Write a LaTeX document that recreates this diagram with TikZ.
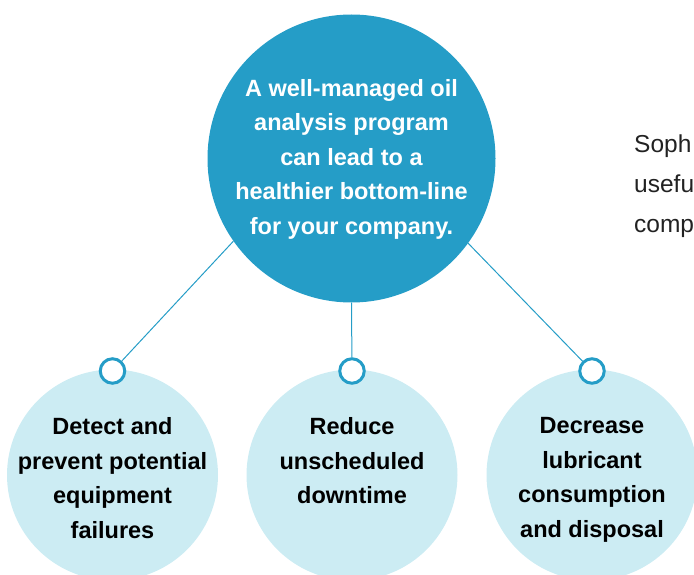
\documentclass[tikz,border=0pt]{standalone}
\usepackage{fontspec}
\setmainfont{Liberation Sans}
\definecolor{mainblue}{RGB}{37,157,199}
\definecolor{lightblue}{RGB}{204,236,243}
\definecolor{sidegray}{RGB}{34,34,34}
\begin{document}
\begin{tikzpicture}[x=1pt,y=-1pt,
  bigcircle/.style={circle,fill=mainblue,minimum size=288pt,inner sep=0pt},
  subcircle/.style={circle,fill=lightblue,minimum size=211pt,inner sep=0pt},
  ring/.style={circle,draw=mainblue,line width=3pt,fill=white,minimum size=24.5pt,inner sep=0pt},
  link/.style={draw=mainblue,line width=1pt},
  maintext/.style={text=white,font=\bfseries\fontsize{23.5}{34.5}\selectfont,align=center},
  subtext/.style={text=black,font=\bfseries\fontsize{23.5}{34.5}\selectfont,align=center},
  sidetext/.style={text=sidegray,font=\fontsize{24.5}{40}\selectfont,align=left,anchor=north west,inner sep=0pt}]
\useasboundingbox (0,0) rectangle (694,575);
\clip (0,0) rectangle (694,575);
\node[bigcircle] (main) at (351.5,158.5) {};
\node[maintext] (mainlbl) at (351.5,159) {A well-managed oil\\analysis program\\can lead to a\\healthier bottom-line\\for your company.};
\node[subcircle] (left) at (112.5,475) {};
\node[subcircle] (mid) at (352,475) {};
\node[subcircle] (right) at (592,475) {};
\node[subtext] (leftlbl) at (112.5,478) {Detect and\\prevent potential\\equipment\\failures};
\node[subtext] (midlbl) at (352,461) {Reduce\\unscheduled\\downtime};
\node[subtext] (rightlbl) at (592,480) {Decrease\\lubricant\\consumption\\and disposal};
\node[ring] (r1) at (112.5,371) {};
\node[ring] (r2) at (352,371) {};
\node[ring] (r3) at (592,371) {};
\draw[link] (main.215.5) -- (r1);
\draw[link] (main.south) -- (r2);
\draw[link] (main.-36.8) -- (r3);
\node[sidetext] (side) at (634,135) {Soph\\usefu\\comp};
\end{tikzpicture}
\end{document}
